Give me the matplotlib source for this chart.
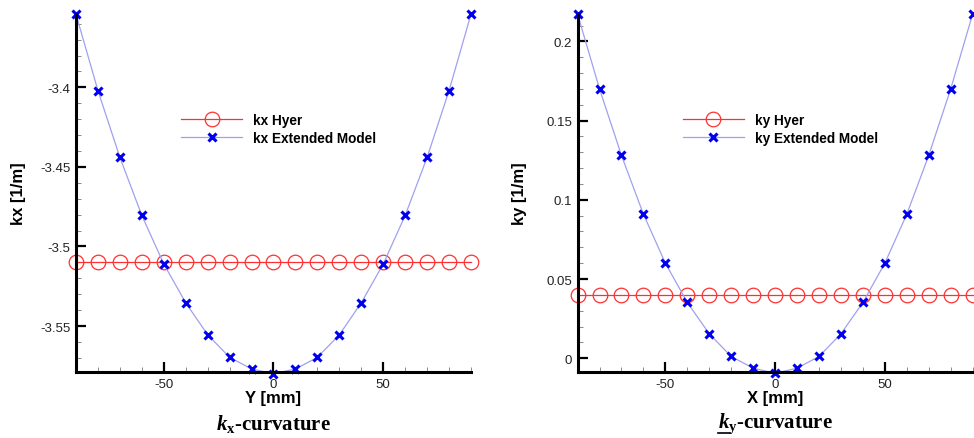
import numpy as np
import matplotlib
matplotlib.use("Agg")
import matplotlib.pyplot as plt
from matplotlib.ticker import MultipleLocator
from matplotlib.lines import Line2D

plt.rcParams['font.family'] = ['Liberation Sans', 'DejaVu Sans']
plt.rcParams['axes.unicode_minus'] = False
plt.rcParams['mathtext.fontset'] = 'custom'
plt.rcParams['mathtext.it'] = 'Liberation Serif:italic:bold'
plt.rcParams['mathtext.rm'] = 'Liberation Serif:bold'

# positions across the plate [mm]
pos = [-90, -80, -70, -60, -50, -40, -30, -20, -10, 0,
       10, 20, 30, 40, 50, 60, 70, 80, 90]

# kx curvature [1/m]
kx_hyer = [-3.51] * 19
kx_ext = [-3.354, -3.402, -3.444, -3.4805, -3.511, -3.5354, -3.5555, -3.5697, -3.577, -3.580,
          -3.577, -3.5697, -3.5555, -3.5354, -3.511, -3.4805, -3.444, -3.402, -3.354]

# ky curvature [1/m]
ky_hyer = [0.0396] * 19
ky_ext = [0.2172, 0.170, 0.128, 0.0909, 0.060, 0.0352, 0.0154, 0.0011, -0.0063, -0.0095,
          -0.0063, 0.0011, 0.0154, 0.0352, 0.060, 0.0909, 0.128, 0.170, 0.2172]

fig = plt.figure(figsize=(9.74, 4.39), dpi=100)
ax1 = fig.add_axes([0.078, 0.150, 0.4056, 0.8155])
ax2 = fig.add_axes([0.593, 0.150, 0.4056, 0.8155])


def draw_panel(ax, y_hyer, y_ext, name, xlabel, ylim, ymajor, ylabpad):
    ax.plot(pos, y_hyer, color='#ff3030', lw=0.9, marker='o', ms=10.5,
            mfc='none', mec='#ff3030', mew=0.9, label=name + ' Hyer', clip_on=False)
    ax.plot(pos, y_ext, color='#a0a0f0', lw=0.9, marker='x', ms=6,
            mec='#0000ee', mew=2.2, label=name + ' Extended Model', clip_on=False)

    ax.set_xlim(-90, 90)
    ax.set_ylim(*ylim)
    ax.xaxis.set_major_locator(MultipleLocator(50))
    ax.xaxis.set_minor_locator(MultipleLocator(10))
    ax.yaxis.set_major_locator(MultipleLocator(ymajor))
    ax.yaxis.set_minor_locator(MultipleLocator(ymajor / 5))
    ax.yaxis.set_major_formatter(plt.FuncFormatter(lambda v, p: f'{v:g}'))
    ax.tick_params(which='major', direction='in', length=7, width=1.6,
                   labelsize=9.5, pad=4, labelcolor='#222222')
    ax.tick_params(which='minor', direction='in', length=3.5, width=0.6, color='#777777')

    for s in ['top', 'right']:
        ax.spines[s].set_visible(False)
    for s in ['left', 'bottom']:
        ax.spines[s].set_linewidth(2.2)

    ax.set_xlabel(xlabel, fontsize=12, fontweight='bold', labelpad=0)
    ax.set_ylabel(name + ' [1/m]', fontsize=12, fontweight='bold', labelpad=ylabpad)

    ax.legend(loc='center left', bbox_to_anchor=(0.235, 0.68), frameon=False,
              handlelength=4.5, handletextpad=0.8, labelspacing=0.3,
              prop={'size': 9.8, 'weight': 'bold'})


draw_panel(ax1, kx_hyer, kx_ext, 'kx', 'Y [mm]', (-3.579, -3.354), 0.05, 10)
draw_panel(ax2, ky_hyer, ky_ext, 'ky', 'X [mm]', (-0.0088, 0.2172), 0.05, 14)

title_kw = dict(ha='center', va='center', family='Liberation Serif',
                fontweight='bold', fontsize=15)
fig.text(0.281, 0.035, r'$k_{\mathrm{x}}$-curvature', **title_kw)
t2 = fig.text(0.796, 0.035, r'$k_{\mathrm{y}}$-curvature', **title_kw)

# underline the k of the second caption (mathtext has no \underline)
renderer = fig.canvas.get_renderer()
bb = t2.get_window_extent(renderer)
tk = fig.text(0, 0, r'$k$', **title_kw)
kw = tk.get_window_extent(renderer).width
tk.remove()
W, H = fig.bbox.width, fig.bbox.height
y_ul = (bb.y0 + 2) / H
fig.add_artist(Line2D([bb.x0 / W, (bb.x0 + kw) / W], [y_ul, y_ul], color='black', lw=1.2))

fig.savefig('out.png', dpi=100)
